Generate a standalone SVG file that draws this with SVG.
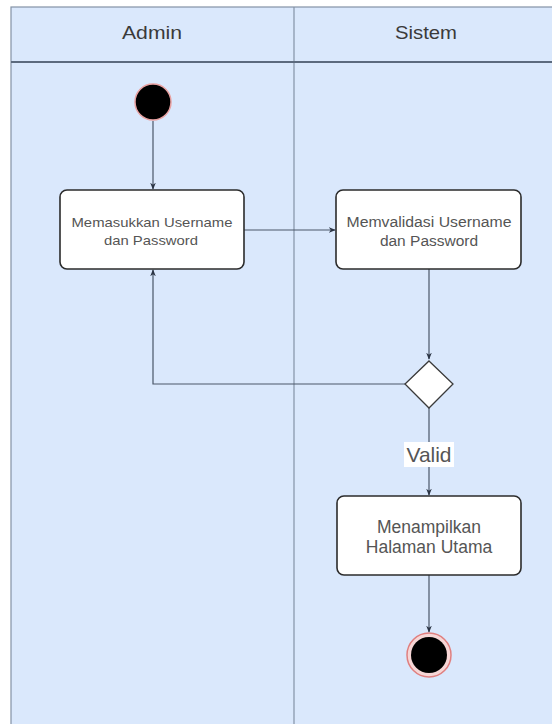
<svg xmlns="http://www.w3.org/2000/svg" width="552" height="724" viewBox="0 0 552 724">
  <style>
    .lane { fill: #dae8fc; stroke: #8492a6; stroke-width: 1.2; }
    .hdr { stroke: #5c6a7e; stroke-width: 1.8; }
    .title { font-family: "Liberation Sans", Arial, sans-serif; font-size: 19px; fill: #3a3a3a; text-anchor: middle; }
    .act { fill: #ffffff; stroke: #2b2b2b; stroke-width: 1.6; }
    .lbl { font-family: "Liberation Sans", Arial, sans-serif; fill: #555; text-anchor: middle; }
    .edge { fill: none; stroke: #4a5668; stroke-width: 1.2; }
    .dot { fill: #000000; stroke: #e8a0a0; stroke-width: 1.5; }
  </style>
  <defs>
    <marker id="arrow" viewBox="0 0 10 10" refX="9" refY="5" markerWidth="7" markerHeight="7" orient="auto" markerUnits="userSpaceOnUse">
      <path d="M0,1 L10,5 L0,9 L3,5 Z" fill="#2b3444"/>
    </marker>
  </defs>

  <rect x="0" y="0" width="552" height="724" fill="#ffffff"/>

  <!-- swimlanes -->
  <g id="lanes">
    <rect class="lane" x="11" y="7" width="560" height="730"/>
    <line x1="294" y1="7" x2="294" y2="724" stroke="#8492a6" stroke-width="1.2"/>
    <line class="hdr" x1="11" y1="62" x2="552" y2="62"/>
    <text class="title" x="152" y="39" textLength="60" lengthAdjust="spacingAndGlyphs">Admin</text>
    <text class="title" x="426" y="39" textLength="62" lengthAdjust="spacingAndGlyphs">Sistem</text>
  </g>

  <!-- connectors -->
  <g id="connectors">
    <path class="edge" d="M153,121 L153,189" marker-end="url(#arrow)"/>
    <path class="edge" d="M244,230 L335,230" marker-end="url(#arrow)"/>
    <path class="edge" d="M429,269 L429,359" marker-end="url(#arrow)"/>
    <path class="edge" d="M405,384 L153,384 L153,270" marker-end="url(#arrow)"/>
    <path class="edge" d="M429,408 L429,495" marker-end="url(#arrow)"/>
    <path class="edge" d="M429,575 L429,632" marker-end="url(#arrow)"/>
    <rect x="404" y="442" width="50" height="25" fill="#ffffff"/>
    <text class="lbl" x="429" y="462" font-size="21" fill="#333" textLength="45" lengthAdjust="spacingAndGlyphs">Valid</text>
  </g>

  <g id="start">
    <circle class="dot" cx="153" cy="102" r="18"/>
  </g>

  <g id="input-credentials">
    <rect class="act" x="60" y="190" width="184" height="79" rx="7"/>
    <text class="lbl" x="152" y="227" font-size="13.5" textLength="161" lengthAdjust="spacingAndGlyphs">Memasukkan Username</text>
    <text class="lbl" x="151" y="245" font-size="13.5" textLength="94" lengthAdjust="spacingAndGlyphs">dan Password</text>
  </g>

  <g id="validate-credentials">
    <rect class="act" x="336" y="190" width="185" height="79" rx="7"/>
    <text class="lbl" x="429" y="227" font-size="15.5" textLength="165" lengthAdjust="spacingAndGlyphs">Memvalidasi Username</text>
    <text class="lbl" x="429" y="246" font-size="15.5">dan Password</text>
  </g>

  <g id="decision">
    <path d="M429,361 L453,384 L429,408 L405,384 Z" fill="#ffffff" stroke="#3a3a3a" stroke-width="1.3"/>
  </g>

  <g id="show-home">
    <rect class="act" x="337" y="496" width="184" height="79" rx="7"/>
    <text class="lbl" x="429" y="533" font-size="17.5">Menampilkan</text>
    <text class="lbl" x="429" y="553" font-size="17.5">Halaman Utama</text>
  </g>

  <g id="end">
    <circle cx="429" cy="655" r="22" fill="#f6d6d6" stroke="#e08080" stroke-width="1.5"/>
    <circle cx="429" cy="655" r="18" fill="#000000"/>
  </g>
</svg>
